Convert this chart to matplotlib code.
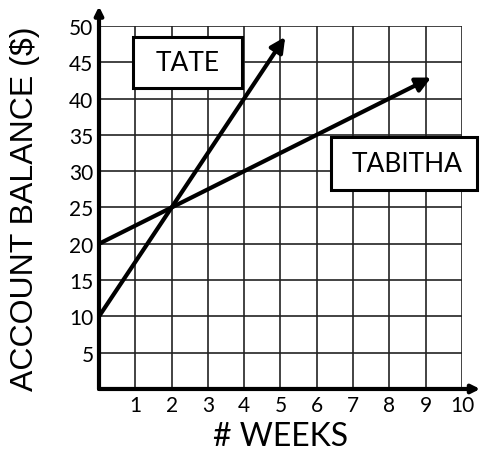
import matplotlib.pyplot as plt
from matplotlib.patches import Rectangle

weeks = [0, 2, 5.13]
tate = [10, 25, 48.5]
weeks_tab = [0, 2, 9.15]
tabitha = [20, 25, 42.9]
x_ticks = [1, 2, 3, 4, 5, 6, 7, 8, 9, 10]
y_ticks = [5, 10, 15, 20, 25, 30, 35, 40, 45, 50]

fig = plt.figure(figsize=(4.82, 4.52), dpi=100)
ax = fig.add_axes([0.2054, 0.1372, 0.7531, 0.8031])
ax.set_xlim(0, 10)
ax.set_ylim(0, 50)

# grid
for x in x_ticks:
    ax.axvline(x, color='#222222', lw=1.2, zorder=1)
for y in y_ticks:
    ax.axhline(y, color='#222222', lw=1.2, zorder=1)

for s in ['top', 'right', 'left', 'bottom']:
    ax.spines[s].set_visible(False)

# axes with arrows
ax.annotate('', xy=(10.5, 0), xytext=(0, 0), annotation_clip=False,
            arrowprops=dict(arrowstyle='-|>', lw=3, color='black', mutation_scale=12,
                            shrinkA=0, shrinkB=0))
ax.annotate('', xy=(0, 52.7), xytext=(0, 0), annotation_clip=False,
            arrowprops=dict(arrowstyle='-|>', lw=3, color='black', mutation_scale=12,
                            shrinkA=0, shrinkB=0))

# data lines
for xs, ys in [(weeks, tate), (weeks_tab, tabitha)]:
    ax.plot(xs[:-1], ys[:-1], color='black', lw=3, solid_capstyle='butt', zorder=3, clip_on=False)
    ax.annotate('', xy=(xs[-1], ys[-1]), xytext=(xs[-2], ys[-2]), annotation_clip=False,
                arrowprops=dict(arrowstyle='-|>', lw=3, color='black', mutation_scale=22,
                                shrinkA=0, shrinkB=0), zorder=3)

ax.set_xticks(x_ticks)
ax.set_yticks(y_ticks)
ax.tick_params(length=0, labelsize=15, pad=4)
for lab in ax.get_xticklabels() + ax.get_yticklabels():
    lab.set_family('Lato')

# label boxes
ax.add_patch(Rectangle((0.94, 41.5), 3.0, 7.0, fc='white', ec='black', lw=2.2, zorder=4))
ax.text(2.44, 45, 'TATE', fontsize=19, family='Lato', ha='center', va='center', zorder=5)
ax.add_patch(Rectangle((6.4, 27.4), 4.0, 7.3, fc='white', ec='black', lw=2.2, zorder=4,
                       clip_on=False))
ax.text(8.5, 31.0, 'TABITHA', fontsize=19, family='Lato', ha='center', va='center', zorder=5)

ax.set_xlabel('# WEEKS', fontsize=23, family='Lato')
ax.xaxis.set_label_coords(0.5, -0.13)
ax.xaxis.label.set_va('center')
ax.set_ylabel('ACCOUNT BALANCE ($)', fontsize=23, family='Liberation Sans')
ax.yaxis.set_label_coords(-0.205, 0.5)
ax.yaxis.label.set_va('center')

fig.savefig('out.png', dpi=100)
